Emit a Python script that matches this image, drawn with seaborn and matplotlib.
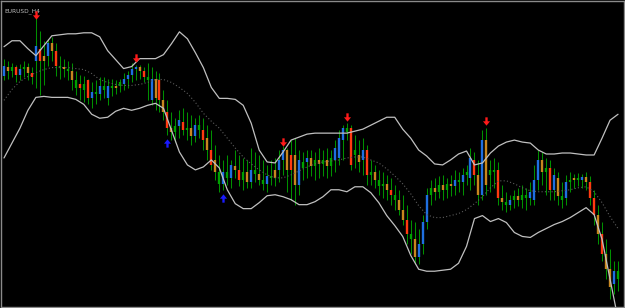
import numpy as np
import pandas as pd
import matplotlib
matplotlib.use("Agg")
import matplotlib.pyplot as plt
from matplotlib.path import Path
import seaborn as sns

# ---- data (chart levels; larger value = lower on chart) ----
high = [58,60,62,64,63,60,62,66,17,30, 40,38,36,42,55,58,60,62,70,74,
        75,78,82,80,76,76,78,78,80,78, 72,70,62,64,64,66,62,66,70,72,
        90,100,112,118,110,108,112,115,118,115, 118,125,130,145,155,160,155,160,150,155,
        158,160,148,152,155,160,165,160,158,150, 146,148,140,138,150,152,150,150,152,148,
        150,148,150,140,130,125,123,125,135,140, 138,145,160,165,170,172,175,178,185,190,
        195,205,220,222,230,215,188,180,178,176, 175,178,175,170,172,168,165,148,152,160,
        130,128,160,158,162,185,192,195,190,188, 185,188,182,165,150,152,158,160,168,172,
        182,175,172,174,173,174,172,176,190,205, 222,240,250,262,262]
low = [80,78,76,82,80,76,80,84,88,95, 85,65,60,75,78,76,80,90,95,100,
       102,104,108,104,100,98,105,96,94,92, 90,88,82,80,78,82,100,105,110,112,
       120,135,140,142,138,135,140,145,142,138, 150,160,170,180,192,190,185,188,178,186,
       190,188,188,182,185,190,192,185,186,182, 175,192,200,205,195,180,178,176,180,178,
       176,178,176,172,165,160,140,170,168,172, 175,185,185,188,195,198,200,205,210,215,
       225,245,255,265,265,255,230,205,200,198, 200,198,196,195,192,195,185,190,185,205,
       200,195,192,188,205,210,212,210,208,206, 208,210,205,205,190,185,195,200,200,205,
       208,205,192,188,186,188,190,205,225,245, 262,280,300,295,292]
open_ = [75,66,70,66,74,68,66,72,60,48, 60,55,42,50,65,66,68,70,80,88,
         84,80,98,92,94,86,98,86,88,86, 84,78,74,68,66,70,76,100,78,80,
         100,112,128,132,126,122,130,128,136,125, 130,138,150,160,172,184,172,178,166,170,
         180,172,182,170,174,180,184,176,178,170, 160,150,170,155,185,168,162,158,166,160,
         164,160,166,160,158,140,128,128,150,155, 160,150,175,172,180,186,184,190,195,200,
         210,220,235,240,258,245,222,195,188,192, 185,190,184,186,180,182,175,178,160,175,
         195,140,175,170,170,198,202,205,200,196, 200,195,198,200,180,160,172,168,190,178,
         196,198,182,180,178,180,177,182,198,215, 235,255,270,285,272]
close = [65,70,66,74,68,66,72,76,45,60, 55,42,50,65,66,68,70,80,88,84,
         90,98,92,94,86,90,86,88,86,82, 78,74,68,66,70,76,80,78,98,100,
         112,128,132,126,120,130,128,136,125,130, 140,150,165,172,184,172,178,165,170,180,
         172,182,170,174,180,184,176,178,170,160, 150,170,155,185,160,162,158,166,160,164,
         160,166,158,148,138,128,132,165,155,162, 150,175,172,180,186,184,190,195,200,210,
         220,235,240,258,245,222,195,188,192,185, 190,184,186,180,182,175,172,158,175,195,
         140,185,170,172,198,202,205,200,196,200, 195,198,192,180,160,172,168,190,175,196,
         200,182,180,178,180,177,182,198,215,235, 255,270,288,272,280]
body_kind = list("BOGRBGORBR" "OBORGOGOGR" "GRBGBGBGOG" "BBBBORGBOR"
                 "OROGBRGOBG" "ROROGBGBOR" "GOBGOGBGOB" "BOROBGBOGO"
                 "GOGBBBGRGO" "BRGOGGORGO" "ORGOBBBGOG" "OGOBGBGBRO"
                 "BOGGROGBGO" "GGBBBOGRBO" "GBGOGBORRO" "ROOBG")

band_idx = list(range(0, 156, 2))
upper = [46,40,40,48,55,45,35,34,33,33, 32,32,36,50,59,68,66,58,58,58,
         54,43,31,38,52,67,87,98,98,99, 105,123,150,162,163,152,140,137,134,133,
         133,133,133,133,131,129,125,121,117,117, 129,138,150,156,164,165,160,154,151,165,
         163,153,146,142,140,142,143,150,154,154, 153,153,154,155,155,138,120,114]
middle = [100,89,81,76,72,69,67,67,67,68, 69,73,79,82,84,85,85,84,82,79,
          79,82,87,93,102,113,121,128,138,148, 157,164,170,175,178,178,175,171,167,164,
          162,161,160,158,157,157,160,163,169,176, 184,194,206,215,218,218,216,214,210,204,
          197,188,181,181,184,188,191,192,192,192, 191,190,188,187,192,203,217,229]
lower = [158,143,128,110,97,96,97,97,97,99, 104,114,118,117,111,108,110,108,105,103,
         108,130,152,165,170,167,160,168,190,204, 209,209,203,196,195,197,200,205,205,202,
         197,190,190,192,187,187,193,203,216,226, 237,256,270,272,272,271,270,264,247,219,
         216,222,219,223,233,237,238,233,229,225, 222,218,213,208,215,240,280,320]

sell_idx = [8, 33, 70, 86, 121]
sell_lvl = [14, 57, 142, 117, 121]
buy_idx = [41, 55]
buy_lvl = [143, 198]

title = "EURUSD_H4"

# ---- styling ----
sns.set_style("dark")
plt.rcParams['font.family'] = ['DejaVu Sans']

fig = plt.figure(figsize=(6.25, 3.08), dpi=100, facecolor="black")
ax = fig.add_axes([0.0016, 0.0033, 0.9968, 0.9934])
ax.set_facecolor("black")

n = len(high)
idx = np.arange(n)
colmap = {"B": "#1f6fe0", "R": "#ff3a10", "O": "#c8861e", "G": "#00a000"}
body_colors = [colmap[k] for k in body_kind]

ax.vlines(idx, low, high, colors="#009000", linewidth=0.75, zorder=2)
ax.vlines(idx, open_, close, colors=body_colors, linewidth=1.7, zorder=3)

bands = pd.DataFrame({"i": band_idx, "upper": upper, "middle": middle, "lower": lower})
sns.lineplot(data=bands, x="i", y="upper", ax=ax, color="#c0c0c0", linewidth=0.9, zorder=4)
sns.lineplot(data=bands, x="i", y="lower", ax=ax, color="#c0c0c0", linewidth=0.9, zorder=4)
sns.lineplot(data=bands, x="i", y="middle", ax=ax, color="#5c5c5c", linewidth=0.8,
             linestyle=(0, (1, 2)), zorder=4)

down_arrow = Path([(-0.28, 1.0), (0.28, 1.0), (0.28, 0.05), (0.85, 0.05), (0.0, -1.0),
                   (-0.85, 0.05), (-0.28, 0.05), (-0.28, 1.0)], closed=True)
up_arrow = Path([(-0.28, -1.0), (0.28, -1.0), (0.28, -0.05), (0.85, -0.05), (0.0, 1.0),
                 (-0.85, -0.05), (-0.28, -0.05), (-0.28, -1.0)], closed=True)
ax.plot(sell_idx, sell_lvl, linestyle="none", marker=down_arrow, markersize=6,
        color="#ff1a1a", markeredgewidth=0, zorder=5)
ax.plot(buy_idx, buy_lvl, linestyle="none", marker=up_arrow, markersize=6,
        color="#1a1aff", markeredgewidth=0, zorder=5)

ax.set_xlim(-0.75, 155.5)
ax.set_ylim(308, 0)
ax.set_xticks([])
ax.set_yticks([])
ax.set_xlabel("")
ax.set_ylabel("")
ax.grid(False)
for s in ax.spines.values():
    s.set_visible(True)
    s.set_color("#8a8a8a")
    s.set_linewidth(1.0)

ax.text(0.006, 0.975, title, transform=ax.transAxes, fontsize=4.2, color="#bdbdbd",
        ha="left", va="top")

fig.savefig("out.png", dpi=100, facecolor="black")
